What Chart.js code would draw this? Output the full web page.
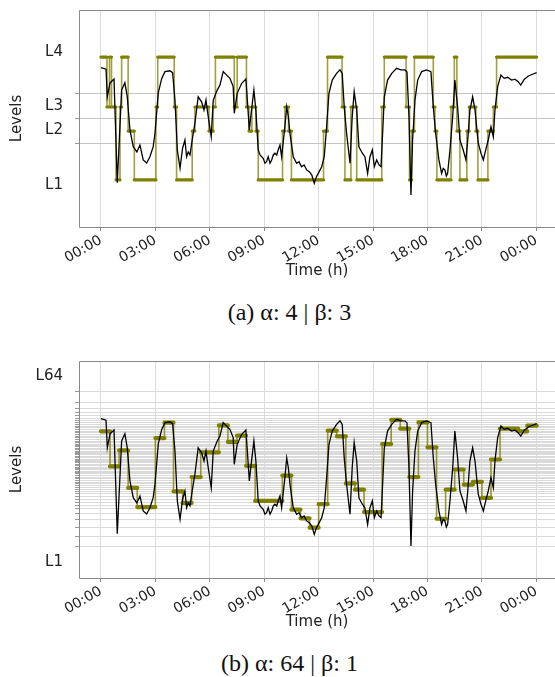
<!DOCTYPE html>
<html>
<head>
<meta charset="utf-8">
<script src="https://cdn.jsdelivr.net/npm/chart.js@4/dist/chart.umd.min.js"></script>
<style>
  body { margin: 0; background: #fff; width: 555px; height: 677px; overflow: hidden; position: relative; }
  canvas { position: absolute; left: 0; }
  .cap { position: absolute; left: 12px; width: 555px; text-align: center; font-family: "Liberation Serif", serif; font-size: 24px; color: #111; line-height: 1; }
</style>
</head>
<body>
<canvas id="chartA" width="555" height="282" style="top:0"></canvas>
<canvas id="chartB" width="555" height="282" style="top:351px"></canvas>
<div class="cap" style="top:300px">(a) α: 4 | β: 3</div>
<div class="cap" style="top:651px">(b) α: 64 | β: 1</div>
<script>
// signal (black), hours of the day and normalised value 0..1
const signalHours = [0, 0.28, 0.35, 0.50, 0.72, 0.90, 1.14, 1.32, 1.45, 1.60, 1.78, 1.98, 2.15, 2.33, 2.52, 2.70, 2.88, 2.98,
  3.16, 3.35, 3.53, 3.80, 3.95, 4.08, 4.21, 4.36, 4.50, 4.63, 4.72, 4.81, 4.91, 5.03, 5.18, 5.36, 5.55, 5.68, 5.79, 5.90,
  6.08, 6.19, 6.41, 6.56, 6.74, 6.93, 7.11, 7.29, 7.35, 7.51, 7.76, 7.99, 8.07, 8.18, 8.27, 8.43, 8.54, 8.67, 8.77, 8.86,
  8.95, 9.04, 9.13, 9.22, 9.32, 9.41, 9.50, 9.59, 9.69, 9.77, 9.87, 9.96, 10.14, 10.24, 10.33, 10.42, 10.60, 10.79, 10.92,
  11.06, 11.20, 11.34, 11.48, 11.62, 11.76, 11.88, 11.98, 12.17, 12.31,
  12.44, 12.57, 12.75, 12.99, 13.18, 13.30, 13.41, 13.54, 13.73, 13.85, 13.96, 14.10, 14.22, 14.41, 14.55, 14.70, 14.83,
  14.96, 15.07, 15.20, 15.33, 15.44, 15.51, 15.62, 15.80, 16.03, 16.30, 16.54, 16.76, 16.87, 16.98, 17.09, 17.18, 17.31,
  17.46, 17.68, 17.95, 18.19, 18.32, 18.45, 18.63, 18.78, 18.87, 18.96, 19.04, 19.11, 19.24, 19.39, 19.51, 19.66, 19.79, 19.97, 20.12,
  20.22, 20.34, 20.49, 20.62, 20.80, 20.95, 21.08, 21.21, 21.35, 21.50, 21.63, 21.72, 21.87, 22.05, 22.23, 22.42, 22.64,
  22.82, 23.00, 23.14, 23.34, 23.56, 23.83, 24.02];
const signalValues = [0.734, 0.727, 0.600, 0.664, 0.682, 0.204, 0.631, 0.665, 0.600, 0.447, 0.370, 0.346, 0.378, 0.309, 0.295, 0.324, 0.370, 0.433,
  0.618, 0.685, 0.716, 0.720, 0.711, 0.585, 0.355, 0.271, 0.363, 0.401, 0.324, 0.346, 0.332, 0.401, 0.478, 0.600, 0.577, 0.539, 0.585, 0.516,
  0.416, 0.585, 0.631, 0.654, 0.716, 0.700, 0.685, 0.647, 0.524, 0.616, 0.662, 0.682, 0.585, 0.447, 0.516, 0.631, 0.539, 0.355, 0.332, 0.324,
  0.315, 0.294, 0.301, 0.324, 0.294, 0.309, 0.332, 0.340, 0.332, 0.355, 0.378, 0.324, 0.462, 0.554, 0.508, 0.432, 0.324, 0.294, 0.301,
  0.278, 0.286, 0.263, 0.255, 0.240, 0.201, 0.232, 0.247, 0.278, 0.324,
  0.462, 0.616, 0.677, 0.708, 0.724, 0.708, 0.554, 0.432, 0.294, 0.508, 0.624, 0.539, 0.370, 0.340, 0.324, 0.247, 0.324,
  0.355, 0.278, 0.309, 0.286, 0.278, 0.401, 0.600, 0.677, 0.708, 0.731, 0.724, 0.724, 0.714, 0.508, 0.147, 0.401, 0.585,
  0.677, 0.716, 0.724, 0.716, 0.554, 0.432, 0.309, 0.247, 0.270, 0.263, 0.235, 0.247, 0.355, 0.508, 0.677, 0.554, 0.401, 0.355, 0.309,
  0.401, 0.539, 0.600, 0.539, 0.386, 0.340, 0.309, 0.355, 0.401, 0.462, 0.416, 0.539, 0.647, 0.700, 0.685, 0.690, 0.677,
  0.681, 0.670, 0.654, 0.681, 0.696, 0.705, 0.711];

// (a) 4 levels
const levelValuesA = [0.217, 0.442, 0.553, 0.783];
const thresholdsA = [0.387, 0.502, 0.613];
const tickLabelsA = ['L1', 'L2', 'L3', 'L4'];
const stepHoursA = [0, 0.33, 0.47, 0.58, 0.83, 1.05, 1.14, 1.50, 1.84, 3.03, 3.13, 4.04, 4.17, 5.03, 5.18, 5.95, 6.19, 6.31,
  7.35, 7.51, 8.02, 8.16, 8.32, 8.54, 8.67, 10.01, 10.14, 10.34, 10.50, 12.27, 12.49, 13.29, 13.45, 13.78, 14.10, 15.48,
  15.62, 16.82, 17.01, 17.13, 17.28, 18.32, 18.41, 18.52, 19.30, 19.48, 19.62, 19.79, 20.17, 20.30, 20.67, 20.78, 21.33,
  21.63, 21.81, 24.02];
const stepLevelsA = [4, 3, 4, 3, 1, 3, 4, 2, 1, 3, 4, 3, 1, 2, 3, 2, 3, 4,
  3, 4, 3, 2, 3, 2, 1, 2, 3, 2, 1, 2, 4, 3, 1, 3, 1, 3,
  4, 3, 1, 2, 4, 3, 2, 1, 3, 4, 2, 1, 2, 3, 2, 1, 2,
  3, 4, 4];

// (b) 64 levels
const thresholdsB = [0.860, 0.811, 0.780, 0.762, 0.748, 0.736, 0.725, 0.716, 0.708, 0.700, 0.693, 0.685, 0.677, 0.670, 0.662,
  0.654, 0.647, 0.639, 0.631, 0.624, 0.616, 0.610, 0.604, 0.597, 0.591, 0.585, 0.579, 0.573, 0.567, 0.561, 0.554, 0.548,
  0.542, 0.536, 0.530, 0.524, 0.518, 0.511, 0.505, 0.499, 0.493, 0.487, 0.481, 0.473, 0.465, 0.458, 0.450, 0.442, 0.435,
  0.425, 0.416, 0.407, 0.398, 0.388, 0.376, 0.364, 0.350, 0.335, 0.318, 0.296, 0.269, 0.235, 0.189, 0.143];
const tickLabelsB = ['L1', 'L64'];
const stepHoursB = [0, 0.5, 1.0, 1.5, 2.0, 3.0, 3.5, 4.0, 4.5, 5.0, 5.5, 6.5, 7.0, 7.5, 8.0, 8.5, 10.0, 10.5, 11.0, 11.5,
  12.0, 12.5, 13.0, 13.5, 14.0, 14.5, 15.5, 16.0, 16.5, 17.0, 17.5, 18.0, 18.5, 19.0, 19.5, 20.0, 20.5, 21.0, 21.5, 22.0,
  23.0, 23.5, 24.02];
const stepValuesB = [0.676, 0.514, 0.588, 0.415, 0.327, 0.645, 0.716, 0.399, 0.346, 0.465, 0.579, 0.703, 0.627, 0.656, 0.517,
  0.355, 0.472, 0.315, 0.275, 0.232, 0.340, 0.679, 0.653, 0.436, 0.407, 0.304, 0.617, 0.729, 0.688, 0.465, 0.717, 0.602,
  0.273, 0.407, 0.500, 0.430, 0.443, 0.369, 0.546, 0.688, 0.676, 0.702, 0.702];

const xTickHours = [0, 3, 6, 9, 12, 15, 18, 21, 24];
const xTickLabels = ['00:00', '03:00', '06:00', '09:00', '12:00', '15:00', '18:00', '21:00', '00:00'];

const OLIVE = '#7f7f00';
const FONT = 'DejaVu Sans';

function lignePasso(horas, valores) {
  return horas.map((h, i) => ({ x: h, y: valores[Math.min(i, valores.length - 1)] }));
}

function patamares(horas, valores) {
  const pts = [];
  for (let i = 0; i < horas.length - 1; i++) {
    pts.push({ x: horas[i], y: valores[i] }, { x: horas[i + 1], y: valores[i] }, { x: horas[i + 1], y: null });
  }
  return pts;
}

function centros(thr) {
  const b = [0, ...thr.slice().sort((p, q) => p - q), 1];
  const c = [];
  for (let i = 0; i < b.length - 1; i++) c.push((b[i] + b[i + 1]) / 2);
  return c;
}

const frame = {
  id: 'frame',
  beforeDatasetsDraw(chart) {
    const { ctx, chartArea: a } = chart;
    ctx.save();
    ctx.strokeStyle = '#8a8a8a';
    ctx.lineWidth = 1;
    ctx.beginPath();
    ctx.moveTo(a.right + 2, Math.round(a.top) + 0.5);
    ctx.lineTo(Math.round(a.left) + 0.5, Math.round(a.top) + 0.5);
    ctx.lineTo(Math.round(a.left) + 0.5, Math.round(a.bottom) + 0.5);
    ctx.lineTo(a.right + 2, Math.round(a.bottom) + 0.5);
    ctx.stroke();
    ctx.restore();
  }
};

function montar(id, stepData, runData, thresholds, labelTicks, opts) {
  const yTicks = [
    ...thresholds.map(v => ({ value: v, label: '', grid: true })),
    ...labelTicks.map(t => ({ value: t.value, label: t.label, grid: false }))
  ];
  return new Chart(document.getElementById(id), {
    type: 'line',
    data: {
      datasets: [
        { data: signalHours.map((h, i) => ({ x: h, y: signalValues[i] })), borderColor: '#000', borderWidth: 1.3,
          pointRadius: 0, tension: 0, order: 0 },
        { data: runData, borderColor: OLIVE, borderWidth: opts.runWidth, borderCapStyle: 'round', pointRadius: 0,
          spanGaps: false, order: 1 },
        { data: stepData, stepped: 'before', borderColor: opts.stepColor, borderWidth: 1.6, pointRadius: 0, order: 2 }
      ]
    },
    options: {
      responsive: false,
      animation: false,
      events: [],
      layout: { padding: { top: 10, left: 0, right: 0, bottom: 0 } },
      plugins: { legend: { display: false }, tooltip: { enabled: false } },
      scales: {
        x: {
          type: 'linear', min: -1.21, max: 25.03,
          afterBuildTicks: s => { s.ticks = xTickHours.map(v => ({ value: v })); },
          afterFit: s => { s.height = 55; s.paddingLeft = 0; s.paddingRight = 0; },
          ticks: { callback: (v, i) => xTickLabels[i], maxRotation: 30, minRotation: 30, autoSkip: false,
            color: '#222', font: { family: FONT, size: 14 }, padding: 1 },
          grid: { color: '#dcdcdc', lineWidth: 1, tickLength: 4, tickColor: '#8a8a8a', drawOnChartArea: true },
          border: { display: false },
          title: { display: true, text: 'Time (h)', color: '#222', font: { family: FONT, size: 15 }, padding: { top: 0, bottom: 2 } }
        },
        y: {
          type: 'linear', min: 0, max: 1,
          afterBuildTicks: s => { s.ticks = yTicks.map(t => ({ value: t.value })); },
          afterFit: s => { s.width = 79; s.paddingTop = 0; s.paddingBottom = 0; },
          ticks: { callback: (v, i) => yTicks[i].label, autoSkip: false, color: '#222',
            font: { family: FONT, size: 15 }, padding: 12 },
          grid: {
            color: c => (c.tick && yTicks[c.index] && yTicks[c.index].grid) ? opts.gridColor : 'transparent',
            tickColor: c => (c.tick && yTicks[c.index] && yTicks[c.index].grid) ? '#9a9a9a' : 'transparent',
            lineWidth: 1, tickLength: 4
          },
          border: { display: false },
          title: { display: true, text: 'Levels', color: '#222', font: { family: FONT, size: 15 }, padding: { top: 8, bottom: 0 } }
        }
      }
    },
    plugins: [frame]
  });
}

// (a)
const valsA = stepLevelsA.map(l => levelValuesA[l - 1]);
const centrosA = centros(thresholdsA);
montar('chartA', lignePasso(stepHoursA, valsA), patamares(stepHoursA, valsA), thresholdsA,
  tickLabelsA.map((l, i) => ({ value: centrosA[i], label: l })),
  { runWidth: 3.2, stepColor: 'rgba(128,128,0,0.75)', gridColor: '#c4c4c4' });

// (b)
const centrosB = centros(thresholdsB);
montar('chartB', lignePasso(stepHoursB, stepValuesB), patamares(stepHoursB, stepValuesB), thresholdsB,
  [{ value: centrosB[0], label: tickLabelsB[0] }, { value: centrosB[centrosB.length - 1], label: tickLabelsB[1] }],
  { runWidth: 4.2, stepColor: 'rgba(128,128,0,0.8)', gridColor: '#dadada' });
</script>
</body>
</html>
